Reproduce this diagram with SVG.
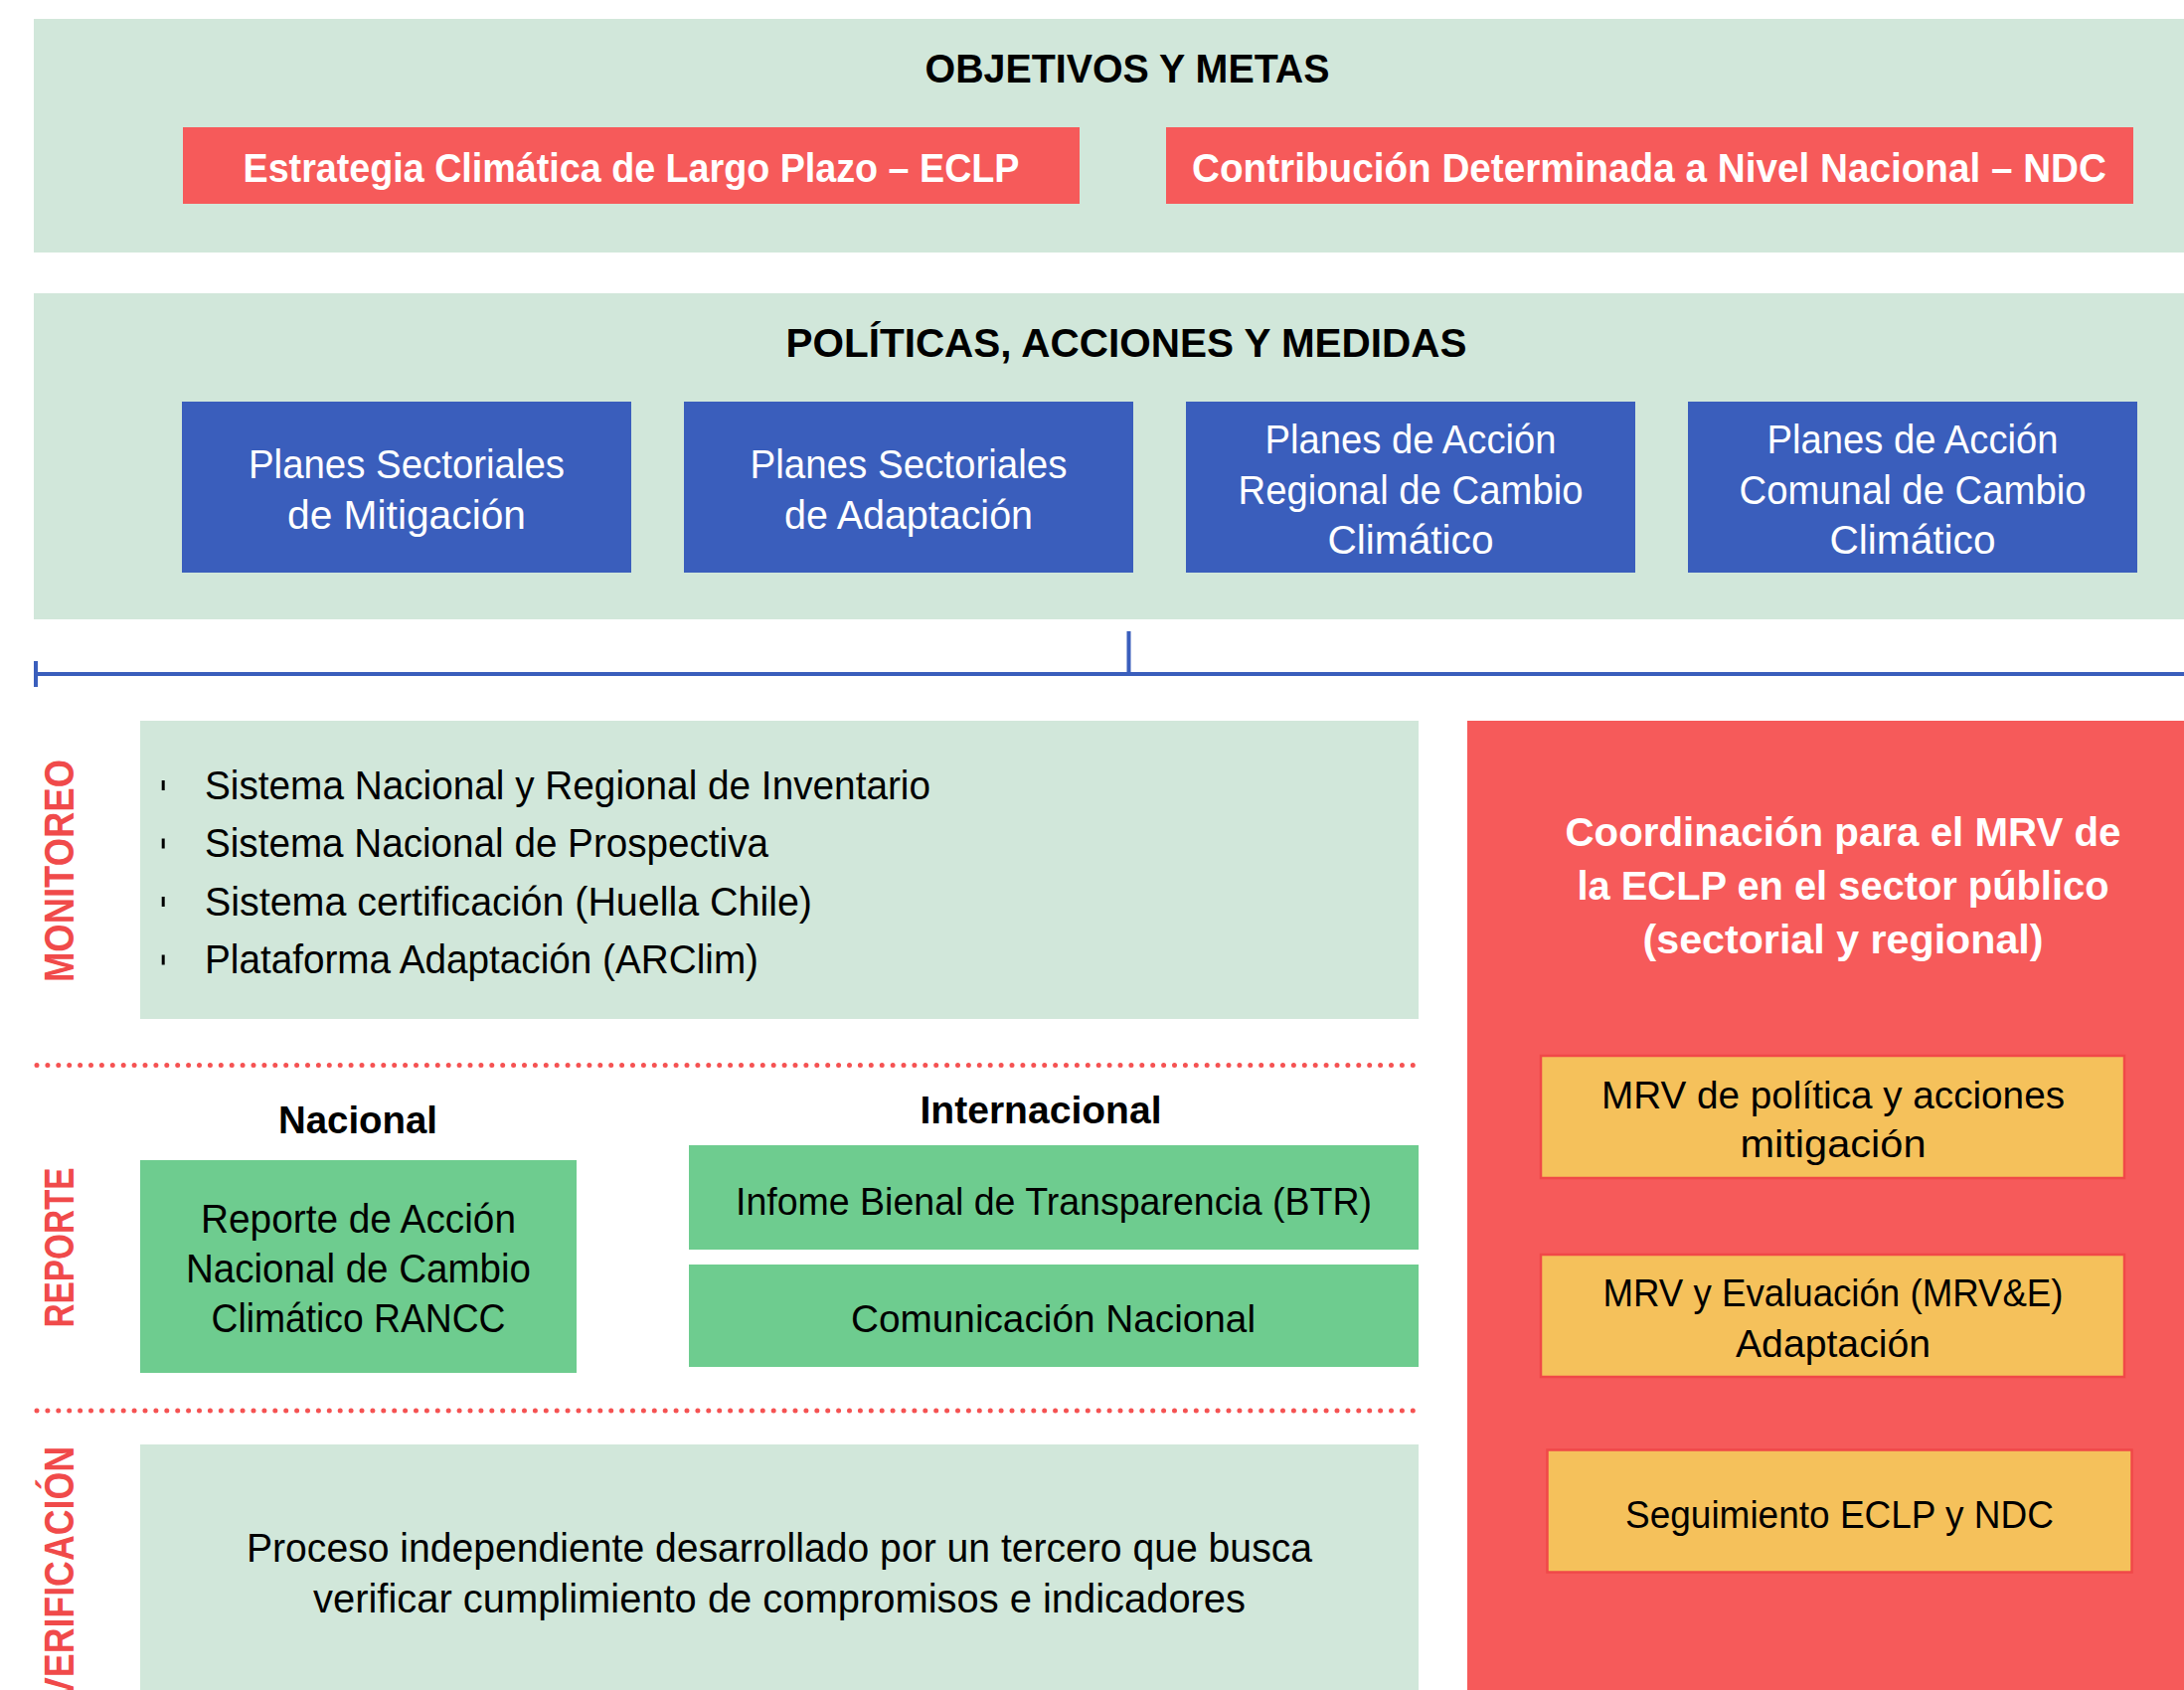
<svg xmlns="http://www.w3.org/2000/svg" width="2197" height="1700" viewBox="0 0 2197 1700">
<style>
text{font-family:"Liberation Sans",Arial,sans-serif;}
.band{fill:#D1E7DA;}
.red{fill:#F65A5A;}
.blue{fill:#3A5EBC;}
.green{fill:#6ECC8F;}
.orange{fill:#F5C15B;stroke:#F04848;stroke-width:2.5;}
.h{font-weight:bold;font-size:40px;fill:#000;text-anchor:middle;}
.hw{font-weight:bold;font-size:40px;fill:#fff;text-anchor:middle;}
.pw{font-weight:bold;font-size:41px;fill:#fff;text-anchor:middle;}
.w{font-size:40px;fill:#fff;text-anchor:middle;}
.t{font-size:40px;fill:#000;text-anchor:middle;}
.ts{font-size:38px;fill:#000;text-anchor:middle;}
.l{font-size:40px;fill:#000;}
.sub{font-weight:bold;font-size:39px;fill:#000;text-anchor:middle;}
.vl{font-weight:bold;font-size:43px;fill:#F04A4A;}
.dot{fill:none;stroke:#F55252;stroke-width:5;stroke-linecap:round;stroke-dasharray:0 10.9;}
.con{fill:none;stroke:#3A5EBC;stroke-width:4;}
</style>

<g id="objetivos">
<rect class="band" x="34" y="19" width="2163" height="235"/>
<text class="h" x="1134" y="82.5" textLength="407" lengthAdjust="spacingAndGlyphs">OBJETIVOS Y METAS</text>
</g>
<g id="eclp">
<rect class="red" x="184" y="128" width="902" height="77"/>
<text class="hw" x="635" y="183" textLength="781" lengthAdjust="spacingAndGlyphs">Estrategia Climática de Largo Plazo – ECLP</text>
</g>
<g id="ndc">
<rect class="red" x="1173" y="128" width="973" height="77"/>
<text class="hw" x="1659" y="183" textLength="920" lengthAdjust="spacingAndGlyphs">Contribución Determinada a Nivel Nacional – NDC</text>
</g>

<g id="politicas">
<rect class="band" x="34" y="295" width="2163" height="328"/>
<text class="h" x="1133" y="358.5" textLength="685" lengthAdjust="spacingAndGlyphs">POLÍTICAS, ACCIONES Y MEDIDAS</text>
</g>
<g id="ps-mitigacion">
<rect class="blue" x="183" y="404" width="452" height="172"/>
<text class="w" x="409" y="481" textLength="318" lengthAdjust="spacingAndGlyphs">Planes Sectoriales</text>
<text class="w" x="409" y="532" textLength="240" lengthAdjust="spacingAndGlyphs">de Mitigación</text>
</g>
<g id="ps-adaptacion">
<rect class="blue" x="688" y="404" width="452" height="172"/>
<text class="w" x="914" y="481" textLength="319" lengthAdjust="spacingAndGlyphs">Planes Sectoriales</text>
<text class="w" x="914" y="532" textLength="250" lengthAdjust="spacingAndGlyphs">de Adaptación</text>
</g>
<g id="pa-regional">
<rect class="blue" x="1193" y="404" width="452" height="172"/>
<text class="w" x="1419" y="456" textLength="293" lengthAdjust="spacingAndGlyphs">Planes de Acción</text>
<text class="w" x="1419" y="507" textLength="347" lengthAdjust="spacingAndGlyphs">Regional de Cambio</text>
<text class="w" x="1419" y="557" textLength="167" lengthAdjust="spacingAndGlyphs">Climático</text>
</g>
<g id="pa-comunal">
<rect class="blue" x="1698" y="404" width="452" height="172"/>
<text class="w" x="1924" y="456" textLength="293" lengthAdjust="spacingAndGlyphs">Planes de Acción</text>
<text class="w" x="1924" y="507" textLength="349" lengthAdjust="spacingAndGlyphs">Comunal de Cambio</text>
<text class="w" x="1924" y="557" textLength="167" lengthAdjust="spacingAndGlyphs">Climático</text>
</g>

<g id="connectors">
<path class="con" d="M36 678 H2197 M36 665 V691 M1135.5 635 V678"/>
</g>

<g id="separators">
<path class="dot" d="M37 1071.5 H1426"/>
<path class="dot" d="M37 1419 H1426"/>
</g>

<g id="label-monitoreo">
<text class="vl" transform="translate(73.5,876) rotate(-90)" text-anchor="middle" textLength="224" lengthAdjust="spacingAndGlyphs">MONITOREO</text>
</g>
<g id="label-reporte">
<text class="vl" transform="translate(73.5,1255) rotate(-90)" text-anchor="middle" textLength="161" lengthAdjust="spacingAndGlyphs">REPORTE</text>
</g>
<g id="label-verificacion">
<text class="vl" transform="translate(73.5,1455) rotate(-90)" text-anchor="end" textLength="256" lengthAdjust="spacingAndGlyphs">VERIFICACIÓN</text>
</g>

<g id="monitoreo">
<rect class="band" x="141" y="725" width="1286" height="300"/>
<rect x="162.7" y="785" width="3" height="10" fill="#000"/>
<rect x="162.7" y="843.5" width="3" height="10" fill="#000"/>
<rect x="162.7" y="902" width="3" height="10" fill="#000"/>
<rect x="162.7" y="960.5" width="3" height="10" fill="#000"/>
<text class="l" x="206" y="803.5" textLength="730" lengthAdjust="spacingAndGlyphs">Sistema Nacional y Regional de Inventario</text>
<text class="l" x="206" y="862" textLength="567" lengthAdjust="spacingAndGlyphs">Sistema Nacional de Prospectiva</text>
<text class="l" x="206" y="920.5" textLength="611" lengthAdjust="spacingAndGlyphs">Sistema certificación (Huella Chile)</text>
<text class="l" x="206" y="979" textLength="557" lengthAdjust="spacingAndGlyphs">Plataforma Adaptación (ARClim)</text>
</g>

<g id="nacional">
<text class="sub" x="360" y="1140" textLength="160" lengthAdjust="spacingAndGlyphs">Nacional</text>
<rect class="green" x="141" y="1167" width="439" height="214"/>
<text class="t" x="360.5" y="1240" textLength="317" lengthAdjust="spacingAndGlyphs">Reporte de Acción</text>
<text class="t" x="360.5" y="1290" textLength="347" lengthAdjust="spacingAndGlyphs">Nacional de Cambio</text>
<text class="t" x="360.5" y="1339.7" textLength="296" lengthAdjust="spacingAndGlyphs">Climático RANCC</text>
</g>

<g id="internacional">
<text class="sub" x="1047" y="1130" textLength="243" lengthAdjust="spacingAndGlyphs">Internacional</text>
</g>
<g id="btr">
<rect class="green" x="693" y="1152" width="734" height="105"/>
<text class="ts" x="1060" y="1221.5" textLength="640" lengthAdjust="spacingAndGlyphs">Infome Bienal de Transparencia (BTR)</text>
</g>
<g id="comunicacion">
<rect class="green" x="693" y="1272" width="734" height="103"/>
<text class="ts" x="1059.5" y="1339.7" textLength="407" lengthAdjust="spacingAndGlyphs">Comunicación Nacional</text>
</g>

<g id="verificacion">
<rect class="band" x="141" y="1453" width="1286" height="260"/>
<text class="t" x="784" y="1570.5" textLength="1072" lengthAdjust="spacingAndGlyphs">Proceso independiente desarrollado por un tercero que busca</text>
<text class="t" x="784" y="1622" textLength="938" lengthAdjust="spacingAndGlyphs">verificar cumplimiento de compromisos e indicadores</text>
</g>

<g id="coordinacion">
<rect class="red" x="1476" y="725" width="721" height="990"/>
<text class="pw" x="1854" y="851" textLength="559" lengthAdjust="spacingAndGlyphs">Coordinación para el MRV de</text>
<text class="pw" x="1854" y="905" textLength="535" lengthAdjust="spacingAndGlyphs">la ECLP en el sector público</text>
<text class="pw" x="1854" y="958.5" textLength="403" lengthAdjust="spacingAndGlyphs">(sectorial y regional)</text>
</g>
<g id="mrv-mitigacion">
<rect class="orange" x="1550" y="1062" width="587" height="123"/>
<text class="ts" x="1844" y="1114.5" textLength="466" lengthAdjust="spacingAndGlyphs">MRV de política y acciones</text>
<text class="ts" x="1844" y="1164" textLength="187" lengthAdjust="spacingAndGlyphs">mitigación</text>
</g>
<g id="mrv-adaptacion">
<rect class="orange" x="1550" y="1262" width="587" height="123"/>
<text class="ts" x="1844" y="1313.5" textLength="463" lengthAdjust="spacingAndGlyphs">MRV y Evaluación (MRV&amp;E)</text>
<text class="ts" x="1844" y="1365" textLength="196" lengthAdjust="spacingAndGlyphs">Adaptación</text>
</g>
<g id="seguimiento">
<rect class="orange" x="1556.5" y="1458.5" width="588" height="123"/>
<text class="ts" x="1850.5" y="1536.7" textLength="431" lengthAdjust="spacingAndGlyphs">Seguimiento ECLP y NDC</text>
</g>
</svg>
